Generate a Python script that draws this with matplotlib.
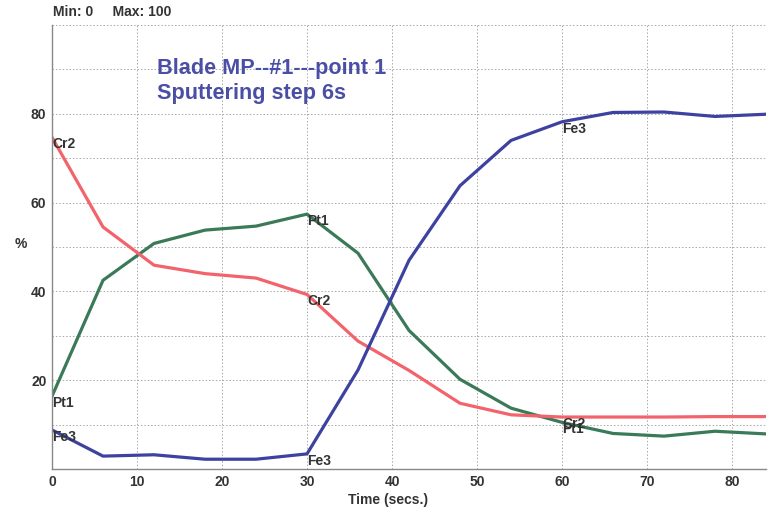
#!/usr/bin/env python3
"""
Depth profile of blade MP #1, point 1 (sputtering step 6 s)
"""

import matplotlib
matplotlib.use('Agg')
import matplotlib.pyplot as plt

# Sputter time (s), one point per 6 s step
time_s = [0, 6, 12, 18, 24, 30, 36, 42, 48, 54, 60, 66, 72, 78, 84]

# Concentrations (%)
fe3 = [8.8, 2.9, 3.2, 2.2, 2.2, 3.4, 22.3, 47.0, 63.8, 74.0, 78.2, 80.3, 80.4, 79.4, 79.9]
cr2 = [74.7, 54.5, 45.9, 44.0, 43.0, 39.3, 28.8, 22.2, 14.8, 12.2, 11.7, 11.7, 11.7, 11.8, 11.8]
pt1 = [16.4, 42.5, 50.8, 53.8, 54.7, 57.4, 48.6, 31.2, 20.2, 13.7, 10.5, 8.0, 7.4, 8.5, 7.9]

y_ticks = [20, 40, 60, 80]
x_ticks = [0, 10, 20, 30, 40, 50, 60, 70, 80]
label_times = [0, 30, 60]   # curve names are printed at these points


def main():
    plt.rcParams.update({
        'font.family': ['Liberation Sans', 'DejaVu Sans'],
        'font.weight': 'bold',
        'font.size': 10,
    })

    fig = plt.figure(figsize=(7.74, 5.08), dpi=100)
    ax = fig.add_axes([0.0672, 0.0768, 0.9225, 0.874])

    series = [
        ('Pt1', pt1, '#3b7a58'),
        ('Cr2', cr2, '#f2636b'),
        ('Fe3', fe3, '#3d42a0'),
    ]
    for name, vals, col in series:
        ax.plot(time_s, vals, color=col, linewidth=2.3, solid_joinstyle='round')
        for t in label_times:
            i = time_s.index(t)
            ax.text(t, vals[i], name, ha='left', va='top', fontsize=10,
                    fontweight='bold', color='#333333')

    ax.set_xlim(0, 84)
    ax.set_ylim(0, 100)
    ax.set_xticks(x_ticks)
    ax.set_yticks(y_ticks)
    ax.set_yticks(range(10, 101, 10), minor=True)
    ax.tick_params(which='both', length=0, colors='#333333', labelsize=10, pad=4)

    ax.grid(True, which='both', linestyle=(0, (1.5, 2)), color='#a8a8a8', linewidth=0.7)
    ax.set_axisbelow(True)
    for side in ('top', 'right'):
        ax.spines[side].set_visible(False)
    for side in ('left', 'bottom'):
        ax.spines[side].set_color('#888888')
        ax.spines[side].set_linewidth(1.0)

    ax.set_xlabel('Time (secs.)', fontsize=10, fontweight='bold', color='#333333')
    ax.xaxis.set_label_coords(0.47, -0.055)
    ax.set_ylabel('%', fontsize=10, fontweight='bold', color='#333333', rotation=0)
    ax.yaxis.set_label_coords(-0.043, 0.49)

    fig.text(0.068, 0.962, 'Min: 0     Max: 100', fontsize=10, fontweight='bold',
             color='#333333', ha='left', va='bottom')

    ax.text(12.3, 92.5, 'Blade MP--#1---point 1\nSputtering step 6s', fontsize=15.6,
            fontweight='bold', color='#4a4fa5', ha='left', va='top', linespacing=1.25)

    fig.savefig('out.png', dpi=100)


if __name__ == "__main__":
    main()
